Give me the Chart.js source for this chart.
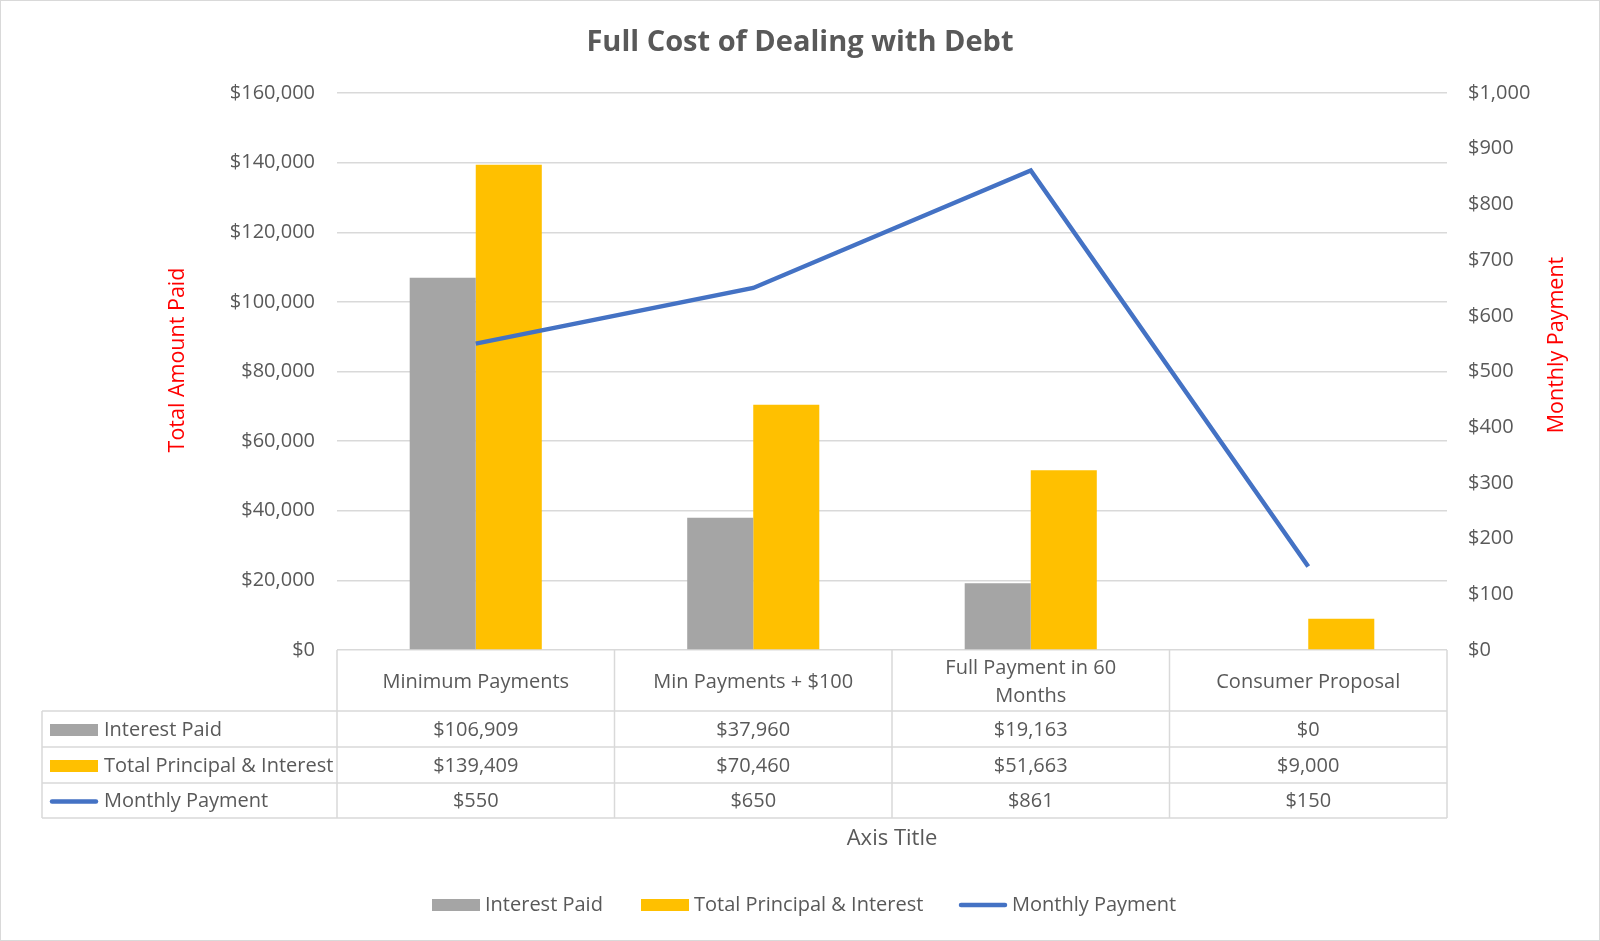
<!DOCTYPE html>
<html>
<head>
<meta charset="utf-8">
<script src="https://cdn.jsdelivr.net/npm/chart.js@4.4.1/dist/chart.umd.min.js"></script>
<style>
  body { margin: 0; background: #fff; }
  canvas { display: block; }
</style>
</head>
<body>
<canvas id="debtChart" width="1600" height="941"></canvas>
<script>
// data
const categories = ['Minimum Payments', 'Min Payments + $100', ['Full Payment in 60', 'Months'], 'Consumer Proposal'];
const interestPaid = [106909, 37960, 19163, 0];
const totalPaid = [139409, 70460, 51663, 9000];
const monthlyPayment = [550, 650, 861, 150];

const chartTitle = 'Full Cost of Dealing with Debt';
const leftTitle = 'Total Amount Paid';
const rightTitle = 'Monthly Payment';
const xTitle = 'Axis Title';

const FONT = '"Open Sans", sans-serif';
const TEXT = '#595959';
const LINES = '#D9D9D9';

Chart.defaults.font.family = FONT;
Chart.defaults.color = TEXT;

function money(v) {
  return '$' + Number(v).toLocaleString('en-US');
}

// title, axis titles, data table and legend
const extras = {
  id: 'extras',
  afterDraw(chart) {
    const ctx = chart.ctx;
    const area = chart.chartArea;
    const x = chart.scales.x;
    ctx.save();

    // outer border
    ctx.strokeStyle = LINES;
    ctx.lineWidth = 1;
    ctx.strokeRect(0.5, 0.5, chart.width - 1, chart.height - 1);

    ctx.fillStyle = TEXT;
    ctx.textAlign = 'center';
    ctx.textBaseline = 'middle';
    ctx.font = 'bold 29px ' + FONT;
    ctx.fillText(chartTitle, 800, 43);

    // axis titles
    ctx.fillStyle = '#FF0000';
    ctx.font = '21.5px ' + FONT;
    ctx.save();
    ctx.translate(178, 360);
    ctx.rotate(-Math.PI / 2);
    ctx.fillText(leftTitle, 0, 0);
    ctx.restore();
    ctx.save();
    ctx.translate(1557, 345);
    ctx.rotate(-Math.PI / 2);
    ctx.fillText(rightTitle, 0, 0);
    ctx.restore();

    // data table
    const tableLeft = 42;
    const rowY = [area.bottom, 711, 747, 783, 818];
    const half = (x.getPixelForValue(1) - x.getPixelForValue(0)) / 2;
    ctx.strokeStyle = LINES;
    ctx.lineWidth = 1.5;
    ctx.beginPath();
    for (let r = 1; r < rowY.length; r++) {
      ctx.moveTo(tableLeft, rowY[r]);
      ctx.lineTo(area.right, rowY[r]);
    }
    ctx.moveTo(tableLeft, rowY[1]);
    ctx.lineTo(tableLeft, rowY[4]);
    for (let i = 0; i <= categories.length; i++) {
      const bx = i === 0 ? area.left : (i === categories.length ? area.right : x.getPixelForValue(i) - half);
      ctx.moveTo(bx, rowY[0]);
      ctx.lineTo(bx, rowY[4]);
    }
    ctx.stroke();

    ctx.fillStyle = TEXT;
    ctx.font = '20px ' + FONT;
    categories.forEach((c, i) => {
      const cx = x.getPixelForValue(i);
      const lines = Array.isArray(c) ? c : [c];
      const mid = (rowY[0] + rowY[1]) / 2 + 2;
      lines.forEach((t, k) => {
        ctx.fillText(t, cx, mid + (k - (lines.length - 1) / 2) * 28);
      });
    });

    const sets = chart.data.datasets;
    sets.forEach((ds, r) => {
      const cy = (rowY[r + 1] + rowY[r + 2]) / 2 + 1;
      ds.data.forEach((v, i) => {
        ctx.fillStyle = TEXT;
        ctx.textAlign = 'center';
        ctx.fillText(money(v), x.getPixelForValue(i), cy);
      });
      drawKey(ctx, ds, 50, cy, 48);
      ctx.fillStyle = TEXT;
      ctx.textAlign = 'left';
      ctx.fillText(ds.label, 104, cy);
    });

    ctx.textAlign = 'center';
    ctx.font = '22px ' + FONT;
    ctx.fillText(xTitle, 892, 839);

    // legend
    ctx.font = '20px ' + FONT;
    const legendX = [432, 641, 959];
    sets.forEach((ds, i) => {
      drawKey(ctx, ds, legendX[i], 905, 48);
      ctx.fillStyle = TEXT;
      ctx.textAlign = 'left';
      ctx.fillText(ds.label, legendX[i] + 53, 905);
    });

    ctx.restore();
  }
};

function drawKey(ctx, ds, left, cy, w) {
  if (ds.type === 'line') {
    ctx.strokeStyle = ds.borderColor;
    ctx.lineWidth = 4.5;
    ctx.lineCap = 'round';
    ctx.beginPath();
    ctx.moveTo(left + 2, cy);
    ctx.lineTo(left + w - 2, cy);
    ctx.stroke();
    ctx.lineCap = 'butt';
  } else {
    ctx.fillStyle = ds.backgroundColor;
    ctx.fillRect(left, cy - 6, w, 12);
  }
}

new Chart(document.getElementById('debtChart'), {
  data: {
    labels: categories,
    datasets: [
      {
        type: 'bar',
        label: 'Interest Paid',
        data: interestPaid,
        backgroundColor: '#A5A5A5',
        yAxisID: 'y',
        order: 1,
        categoryPercentage: 0.476,
        barPercentage: 1
      },
      {
        type: 'bar',
        label: 'Total Principal & Interest',
        data: totalPaid,
        backgroundColor: '#FFC000',
        yAxisID: 'y',
        order: 1,
        categoryPercentage: 0.476,
        barPercentage: 1
      },
      {
        type: 'line',
        label: 'Monthly Payment',
        data: monthlyPayment,
        borderColor: '#4472C4',
        backgroundColor: '#4472C4',
        borderWidth: 4.5,
        pointRadius: 0,
        tension: 0,
        yAxisID: 'y1',
        order: 0
      }
    ]
  },
  options: {
    responsive: false,
    animation: false,
    layout: { padding: { left: 0, right: 0, top: 93, bottom: 291 } },
    plugins: {
      legend: { display: false },
      title: { display: false },
      tooltip: { enabled: false }
    },
    scales: {
      x: { display: false },
      y: {
        position: 'left',
        min: 0,
        max: 160000,
        ticks: { stepSize: 20000, padding: 22, font: { size: 20 }, callback: v => money(v) },
        grid: { color: LINES, lineWidth: 1.5, drawTicks: false },
        border: { display: false },
        afterFit: s => { s.width = 337; }
      },
      y1: {
        position: 'right',
        min: 0,
        max: 1000,
        ticks: { stepSize: 100, padding: 21, font: { size: 20 }, callback: v => money(v) },
        grid: { display: false, drawTicks: false },
        border: { display: false },
        afterFit: s => { s.width = 153; }
      }
    }
  },
  plugins: [extras]
});
</script>
</body>
</html>
